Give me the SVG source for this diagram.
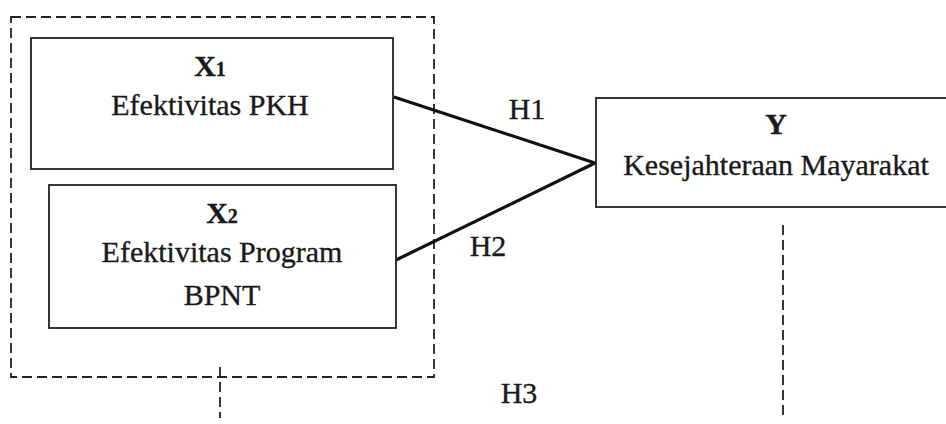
<svg xmlns="http://www.w3.org/2000/svg" width="946" height="424" viewBox="0 0 946 424">
<style>
.box{fill:#fff;stroke:#222;stroke-width:1.8}
.dash{fill:none;stroke:#222;stroke-width:1.8;stroke-dasharray:10 5}
.conn{fill:none;stroke:#111;stroke-width:3.2;stroke-linejoin:miter}
text{font-family:'Liberation Serif','DejaVu Serif',serif;font-size:30px;fill:#1a1a1a;stroke:#1a1a1a;stroke-width:0.35;text-anchor:middle}
.b{font-weight:bold}
.sub{font-size:20px;font-weight:bold}
</style>
<rect width="946" height="424" fill="#fff"/>
<g id="group-box">
<rect class="dash" x="11" y="17" width="423" height="360"/>
</g>
<g id="connectors">
<polyline class="conn" points="394,97 595,163 396,260"/>
<line class="dash" x1="220" y1="367" x2="220" y2="418"/>
<line class="dash" x1="783" y1="225" x2="783" y2="416"/>
</g>
<g id="node-x1">
<rect class="box" x="31" y="38" width="362" height="131"/>
<text x="210" y="76"><tspan class="b">X</tspan><tspan class="sub">1</tspan></text>
<text x="210" y="115">Efektivitas PKH</text>
</g>
<g id="node-x2">
<rect class="box" x="49" y="185" width="347" height="143"/>
<text x="222" y="223"><tspan class="b">X</tspan><tspan class="sub">2</tspan></text>
<text x="222" y="262">Efektivitas Program</text>
<text x="222" y="305">BPNT</text>
</g>
<g id="node-y">
<rect class="box" x="596" y="98" width="360" height="109"/>
<text class="b" x="776" y="134">Y</text>
<text x="776" y="175">Kesejahteraan Mayarakat</text>
</g>
<g id="labels">
<text x="527" y="119">H1</text>
<text x="488" y="256">H2</text>
<text x="519" y="403">H3</text>
</g>
</svg>
